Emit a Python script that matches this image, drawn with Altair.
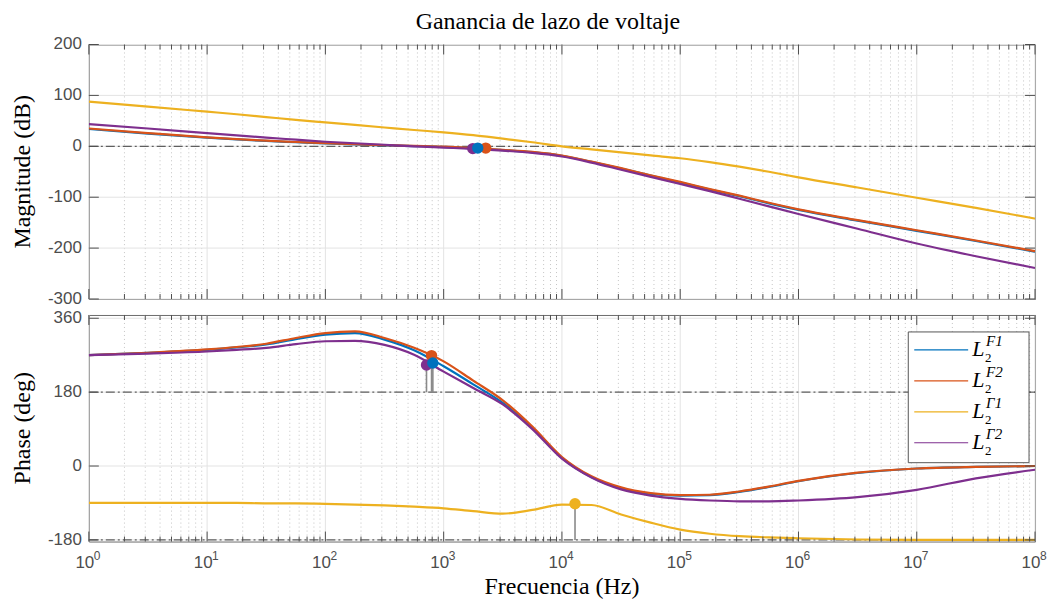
import altair as alt
import pandas as pd

# ---------------- data ----------------
SERIES = ["F1", "F2", "Γ1", "Γ2"]
COLORS = ["#0072BD", "#D95319", "#EDB120", "#7E2F8E"]

LOGF = [0, 0.5, 1, 1.25, 1.5, 1.75, 2, 2.25, 2.5, 2.75, 3, 3.25, 3.5, 3.75, 4,
        4.25, 4.5, 4.75, 5, 5.25, 5.5, 5.75, 6, 6.5, 7, 7.5, 8]

MAG_F1 = [34, 25, 17, 13.5, 10.5, 8, 5.5, 3.5, 2, 0.5, -1, -4, -7.5, -11.5, -18.5,
          -30.5, -43.5, -57.5, -71, -85, -98, -112, -125, -146, -166, -186, -207]
MAG_F2 = [35, 26, 17.6, 14, 11, 8.5, 6, 4, 2.5, 1, -0.5, -3.5, -7, -11, -18,
          -30, -43, -57, -70, -84, -97, -111, -124, -145, -165, -185, -206]
MAG_G1 = [87.6, 78, 68, 63, 57.5, 52, 47, 42, 37, 32, 27.5, 22, 15, 8, 0,
          -6, -12, -18, -23.5, -31, -40, -50, -61, -81, -101, -121, -142]
MAG_G2 = [43.7, 35, 26, 21.5, 17, 13, 9, 6, 3, 0, -2.5, -5, -8.5, -13, -20,
          -32, -46, -60, -74, -88, -103, -118, -133, -162, -191, -216, -239]

PH_F1 = [270, 276, 283, 289, 296, 309, 320, 324, 308, 282, 243, 199, 154, 93, 20,
         -27, -55, -68, -72, -71, -63, -51, -37, -17, -6, -2, 0]
PH_F2 = [270, 276, 284, 290, 298, 312, 324, 328, 312, 288, 255, 208, 160, 96, 22,
         -25, -52, -66, -71, -70, -62, -50, -36, -16, -6, -2, 0]
PH_G1 = [-90, -90, -90, -90, -91, -91, -92, -94, -96, -99, -103, -110, -116, -107, -94,
         -95, -118, -138, -155, -165, -171, -174, -176, -179, -180, -180, -180]
PH_G2 = [270, 274, 279, 283, 288, 297, 304, 305, 295, 271, 230, 190, 150, 90, 18,
         -28, -57, -72, -80, -84, -86, -86, -84, -76, -58, -30, -9]

# margin markers (magnitude panel)
MKM_SERIES = ["F2", "Γ2", "F1"]
MKM_FREQ = [2270, 1763, 1942]
MKM_VAL = [-3.5, -4.5, -3.5]
# margin markers (phase panel)
MKP_SERIES = ["F2", "Γ2", "F1", "Γ1"]
MKP_FREQ = [790, 716, 810, 12900]
MKP_VAL = [269, 246, 251, -92]
MKP_STEM = [180, 180, 180, -180]

MAG_TICKS = [-300, -200, -100, 0, 100, 200]
PH_TICKS = [-180, 0, 180, 360]
DECADES = [0, 1, 2, 3, 4, 5, 6, 7, 8]
SUPER = ["F1", "F2", "Γ1", "Γ2"]

# ---------------- helpers ----------------
W, H1, H2 = 948, 255, 227
MAJORS = [10 ** d for d in DECADES]
MINORS = [k * 10 ** d for d in DECADES[:-1] for k in range(2, 10)]
xscale = alt.Scale(type="log", domain=[1, 1e8], nice=False)
color_of = dict(zip(SERIES, COLORS))
AXC = "#6b6b6b"
GRID = "#e3e3e3"
LABC = "#4d4d4d"
SERIF = "Liberation Serif"
TFS = 24

curves = {
    "F1": (MAG_F1, PH_F1), "F2": (MAG_F2, PH_F2),
    "Γ1": (MAG_G1, PH_G1), "Γ2": (MAG_G2, PH_G2),
}


def series_df(name, which):
    return pd.DataFrame({"f": [10 ** v for v in LOGF], "v": curves[name][which]})


def one():
    return pd.DataFrame({"a": [0]})


def panel(which, ydomain, yticks, H, ytitle, bottom):
    yscale = alt.Scale(domain=ydomain, nice=False, zero=False)
    X = lambda: alt.X("f:Q", scale=xscale, axis=None)
    Y = lambda: alt.Y("v:Q", scale=yscale, axis=None)
    layers = []
    # grids
    layers.append(alt.Chart(pd.DataFrame({"f": MINORS})).mark_rule(
        color="#c4c4c4", strokeDash=[1, 3], strokeWidth=1
    ).encode(x=X(), y=alt.value(0), y2=alt.value(H)))
    layers.append(alt.Chart(pd.DataFrame({"f": MAJORS})).mark_rule(
        color=GRID, strokeWidth=1
    ).encode(x=X(), y=alt.value(0), y2=alt.value(H)))
    dy = pd.DataFrame({"v": yticks, "t": [str(t) for t in yticks]})
    layers.append(alt.Chart(dy).mark_rule(color=GRID, strokeWidth=1).encode(
        y=Y(), x=alt.value(0), x2=alt.value(W)))
    # reference dash-dot lines
    refs = [0] if which == 0 else [180, -180]
    layers.append(alt.Chart(pd.DataFrame({"v": refs})).mark_rule(
        color="#5f5f5f", strokeDash=[9, 3, 2, 3], strokeWidth=1.2
    ).encode(y=Y(), x=alt.value(0), x2=alt.value(W)))
    # curves
    for name in ["F1", "F2", "Γ1", "Γ2"]:
        layers.append(alt.Chart(series_df(name, which)).mark_line(
            color=color_of[name], strokeWidth=2.2, interpolate="monotone", clip=True
        ).encode(x=X(), y=Y()))
    # markers with stems
    if which == 0:
        mk = pd.DataFrame({"s": MKM_SERIES, "f": MKM_FREQ, "v": MKM_VAL,
                           "e": [0] * len(MKM_SERIES)})
    else:
        mk = pd.DataFrame({"s": MKP_SERIES, "f": MKP_FREQ, "v": MKP_VAL, "e": MKP_STEM})
    layers.append(alt.Chart(mk).mark_rule(color="#8a8a8a", strokeWidth=1.6).encode(
        x=X(), y=Y(), y2="e:Q"))
    for i in range(len(mk)):
        layers.append(alt.Chart(mk.iloc[[i]]).mark_point(
            filled=True, size=130, opacity=1, color=color_of[mk["s"].iloc[i]]
        ).encode(x=X(), y=Y()))
    # inward ticks on the box
    for vals, ln in [(MAJORS, 10), (MINORS, 5)]:
        d = pd.DataFrame({"f": vals})
        layers.append(alt.Chart(d).mark_rule(color=LABC, strokeWidth=1).encode(
            x=X(), y=alt.value(H), y2=alt.value(H - ln)))
        layers.append(alt.Chart(d).mark_rule(color=LABC, strokeWidth=1).encode(
            x=X(), y=alt.value(0), y2=alt.value(ln)))
    layers.append(alt.Chart(dy).mark_rule(color=LABC, strokeWidth=1).encode(
        y=Y(), x=alt.value(0), x2=alt.value(10)))
    layers.append(alt.Chart(dy).mark_rule(color=LABC, strokeWidth=1).encode(
        y=Y(), x=alt.value(W - 10), x2=alt.value(W)))
    # y tick labels and title
    layers.append(alt.Chart(dy).mark_text(
        font="Liberation Sans", fontSize=17, color=LABC, align="right", baseline="middle"
    ).encode(y=Y(), x=alt.value(-7), text="t:N"))
    layers.append(alt.Chart(one()).mark_text(
        font=SERIF, fontSize=TFS, color="#000000", angle=270,
        align="center", baseline="middle"
    ).encode(x=alt.value(-66), y=alt.value(H / 2), text=alt.value(ytitle)))

    if not bottom:
        layers.append(alt.Chart(one()).mark_text(
            font=SERIF, fontSize=TFS, color="#000000",
            align="center", baseline="middle"
        ).encode(x=alt.value(W / 2 - 14), y=alt.value(-23),
                 text=alt.value("Ganancia de lazo de voltaje")))
    else:
        # x tick labels 10^n and title
        dd = pd.DataFrame({"f": MAJORS, "e": [str(d) for d in DECADES]})
        layers.append(alt.Chart(dd).mark_text(
            font="Liberation Sans", fontSize=17, color=LABC, align="center",
            baseline="alphabetic", dx=-4
        ).encode(x=X(), y=alt.value(H + 27), text=alt.value("10")))
        layers.append(alt.Chart(dd).mark_text(
            font="Liberation Sans", fontSize=12, color=LABC, align="left",
            baseline="alphabetic", dx=5
        ).encode(x=X(), y=alt.value(H + 18), text="e:N"))
        layers.append(alt.Chart(one()).mark_text(
            font=SERIF, fontSize=TFS, color="#000000",
            align="center", baseline="middle"
        ).encode(x=alt.value(W / 2), y=alt.value(H + 46), text=alt.value("Frecuencia (Hz)")))
        # legend box
        lx0, lx1, ly0, ly1 = W - 127, W - 6, 17, 148
        layers.append(alt.Chart(one()).mark_rect(
            fill="white", stroke="#555555", strokeWidth=1
        ).encode(x=alt.value(lx0), x2=alt.value(lx1), y=alt.value(ly0), y2=alt.value(ly1)))
        for i, name in enumerate(SERIES):
            yc = 35 + 31 * i
            layers.append(alt.Chart(one()).mark_rule(color=color_of[name], strokeWidth=1.2).encode(
                x=alt.value(lx0 + 6), x2=alt.value(lx0 + 60), y=alt.value(yc)))
            layers.append(alt.Chart(one()).mark_text(
                font=SERIF, fontStyle="italic", fontSize=22, align="left",
                baseline="alphabetic", color="#000000"
            ).encode(x=alt.value(lx0 + 64), y=alt.value(yc + 6), text=alt.value("L")))
            layers.append(alt.Chart(one()).mark_text(
                font=SERIF, fontSize=13, align="left",
                baseline="alphabetic", color="#000000"
            ).encode(x=alt.value(lx0 + 77), y=alt.value(yc + 12), text=alt.value("2")))
            layers.append(alt.Chart(one()).mark_text(
                font=SERIF, fontStyle="italic", fontSize=15, align="left",
                baseline="alphabetic", color="#000000"
            ).encode(x=alt.value(lx0 + 78), y=alt.value(yc - 4), text=alt.value(SUPER[i])))
    return alt.layer(*layers).properties(width=W, height=H)


top = panel(0, [-300, 200], MAG_TICKS, H1, "Magnitude (dB)", False)
bot = panel(1, [-184, 368], PH_TICKS, H2, "Phase (deg)", True)

chart = alt.vconcat(top, bot, spacing=16, bounds="flush").properties(
    padding={"left": 2, "top": 0, "right": 0, "bottom": 0}, background="white"
).configure_view(stroke=AXC, strokeWidth=1)

chart.save("out.html", embed_options={"renderer": "svg", "actions": False})
